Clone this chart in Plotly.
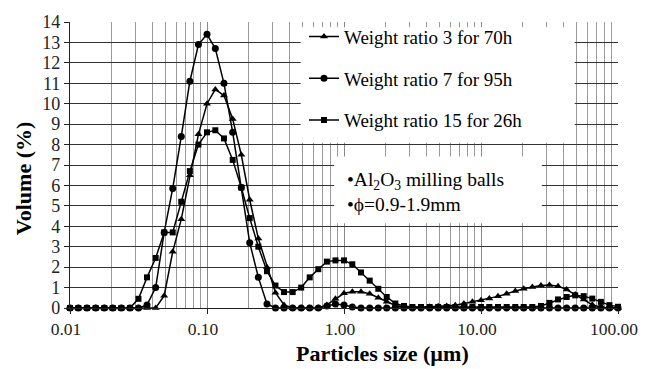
import plotly.graph_objects as go

# Particle size bins (um), log spaced
size_um = [0.010, 0.0115, 0.0133, 0.0154, 0.0178, 0.0205, 0.0237, 0.0274, 0.0316, 0.0365,
           0.0422, 0.0487, 0.0562, 0.0649, 0.075, 0.0866, 0.1, 0.115, 0.133, 0.154,
           0.178, 0.205, 0.237, 0.274, 0.316, 0.365, 0.422, 0.487, 0.562, 0.649,
           0.75, 0.866, 1.0, 1.15, 1.33, 1.54, 1.78, 2.05, 2.37, 2.74,
           3.16, 3.65, 4.22, 4.87, 5.62, 6.49, 7.5, 8.66, 10.0, 11.5,
           13.3, 15.4, 17.8, 20.5, 23.7, 27.4, 31.6, 36.5, 42.2, 48.7,
           56.2, 64.9, 75.0, 86.6, 100.0]

ratio3_70h = [0, 0, 0, 0, 0, 0, 0, 0, 0, 0,
              0, 0.6, 2.75, 4.35, 6.5, 8.5, 10.0, 10.7, 10.4, 9.25,
              7.5, 5.3, 3.4, 2.0, 0.75, 0.15, 0, 0, 0, 0,
              0.15, 0.45, 0.72, 0.8, 0.8, 0.7, 0.5, 0.3, 0.12, 0.05,
              0.03, 0.04, 0.06, 0.08, 0.1, 0.14, 0.22, 0.3, 0.38, 0.47,
              0.57, 0.7, 0.83, 0.94, 1.03, 1.1, 1.12, 1.07, 0.9, 0.66,
              0.42, 0.16, 0.04, 0, 0]

ratio7_95h = [0, 0, 0, 0, 0, 0, 0, 0, 0, 0.15,
              1.0, 3.7, 5.85, 8.4, 11.1, 12.9, 13.4, 12.7, 11.0, 8.6,
              5.9, 3.2, 1.5, 0.2, 0, 0, 0, 0, 0, 0,
              0.1, 0.2, 0.15, 0.05, 0, 0, 0, 0, 0, 0,
              0, 0, 0, 0, 0, 0, 0, 0, 0, 0,
              0, 0, 0, 0, 0, 0, 0, 0, 0, 0,
              0, 0, 0, 0, 0]

ratio15_26h = [0, 0, 0, 0, 0, 0, 0, 0, 0.45, 1.5,
               2.45, 3.7, 3.7, 5.2, 6.7, 8.0, 8.6, 8.7, 8.3, 7.25,
               5.9, 4.4, 3.0, 1.8, 1.1, 0.78, 0.78, 1.0, 1.5, 1.9,
               2.27, 2.33, 2.33, 2.14, 1.74, 1.34, 0.94, 0.54, 0.22, 0.1,
               0.05, 0.05, 0.05, 0.05, 0.05, 0.05, 0.05, 0.05, 0.05, 0.05,
               0.05, 0.05, 0.05, 0.05, 0.05, 0.1, 0.25, 0.42, 0.54, 0.62,
               0.58, 0.46, 0.3, 0.14, 0.06]

series = [
    ("Weight ratio 3 for 70h", ratio3_70h, "triangle-up", 7),
    ("Weight ratio 7 for 95h", ratio7_95h, "circle", 7),
    ("Weight ratio 15 for 26h", ratio15_26h, "square", 6),
]

x_tickvals = [0.01, 0.1, 1, 10, 100]
x_ticktext = ["0.01", "0.10", "1.00", "10.00", "100.00"]
x_minor = [m * d for d in [0.01, 0.1, 1, 10] for m in range(2, 10)]
y_tickvals = list(range(0, 15))

FONT = "Liberation Serif, Times New Roman, serif"

fig = go.Figure()
for i, (name, vals, sym, ms) in enumerate(series):
    fig.add_trace(go.Scatter(
        x=size_um, y=vals, name=name, mode="lines+markers",
        line=dict(color="black", width=1.5),
        marker=dict(symbol=sym, size=ms, color="black"),
        cliponaxis=False, legendgroup=f"g{i}",
    ))

fig.update_layout(
    width=650, height=369,
    margin=dict(l=70, r=26, t=16, b=61),
    paper_bgcolor="white", plot_bgcolor="white",
    font=dict(family=FONT, size=15, color="black"),
    showlegend=True,
    legend=dict(x=0.427, y=1.015, xanchor="left", yanchor="top",
                bgcolor="rgba(0,0,0,0)", borderwidth=0,
                tracegroupgap=14, traceorder="grouped", itemwidth=30,
                font=dict(family=FONT, size=19, color="black")),
    shapes=[
        dict(type="rect", xref="paper", yref="paper", x0=0.421, x1=0.921,
             y0=0.578, y1=0.982, fillcolor="white", line=dict(width=0), layer="above"),
        dict(type="rect", xref="paper", yref="paper", x0=0.482, x1=0.861,
             y0=0.296, y1=0.53, fillcolor="white", line=dict(width=0), layer="above"),
    ],
    annotations=[
        dict(xref="paper", yref="paper", x=0.502, y=0.405, xanchor="left", yanchor="middle",
             align="left", showarrow=False,
             text="•Al<sub>2</sub>O<sub>3</sub> milling balls<br>•ϕ=0.9-1.9mm",
             font=dict(family=FONT, size=19.5, color="black")),
        dict(xref="paper", yref="paper", x=0.5695, y=-0.158, xanchor="center", yanchor="middle",
             showarrow=False, text="<b>Particles size (µm)</b>",
             font=dict(family=FONT, size=22, color="black")),
        dict(xref="paper", yref="paper", x=-0.085, y=0.452, xanchor="center", yanchor="middle",
             showarrow=False, textangle=-90, text="<b>Volume (%)</b>",
             font=dict(family=FONT, size=22, color="black")),
    ],
)

fig.update_xaxes(
    type="log", range=[-2, 2],
    tickvals=x_tickvals, ticktext=x_ticktext,
    ticks="outside", ticklen=5, tickcolor="#222",
    showgrid=True, gridcolor="#888", gridwidth=1,
    showline=True, linecolor="#222", linewidth=1.2,
    tickfont=dict(family=FONT, size=17.5, color="#222"),
    ticklabelshift=-4,
    minor=dict(tickvals=x_minor, showgrid=True, gridcolor="#9a9a9a", gridwidth=1, ticks=""),
    zeroline=False,
)
fig.update_yaxes(
    range=[0, 14], tickvals=y_tickvals,
    ticks="outside", ticklen=5, tickcolor="#222",
    showgrid=True, gridcolor="#333", gridwidth=1,
    showline=True, linecolor="#222", linewidth=1.2,
    tickfont=dict(family=FONT, size=18, color="#222"),
    zeroline=False,
)

fig.write_html("out.html")
